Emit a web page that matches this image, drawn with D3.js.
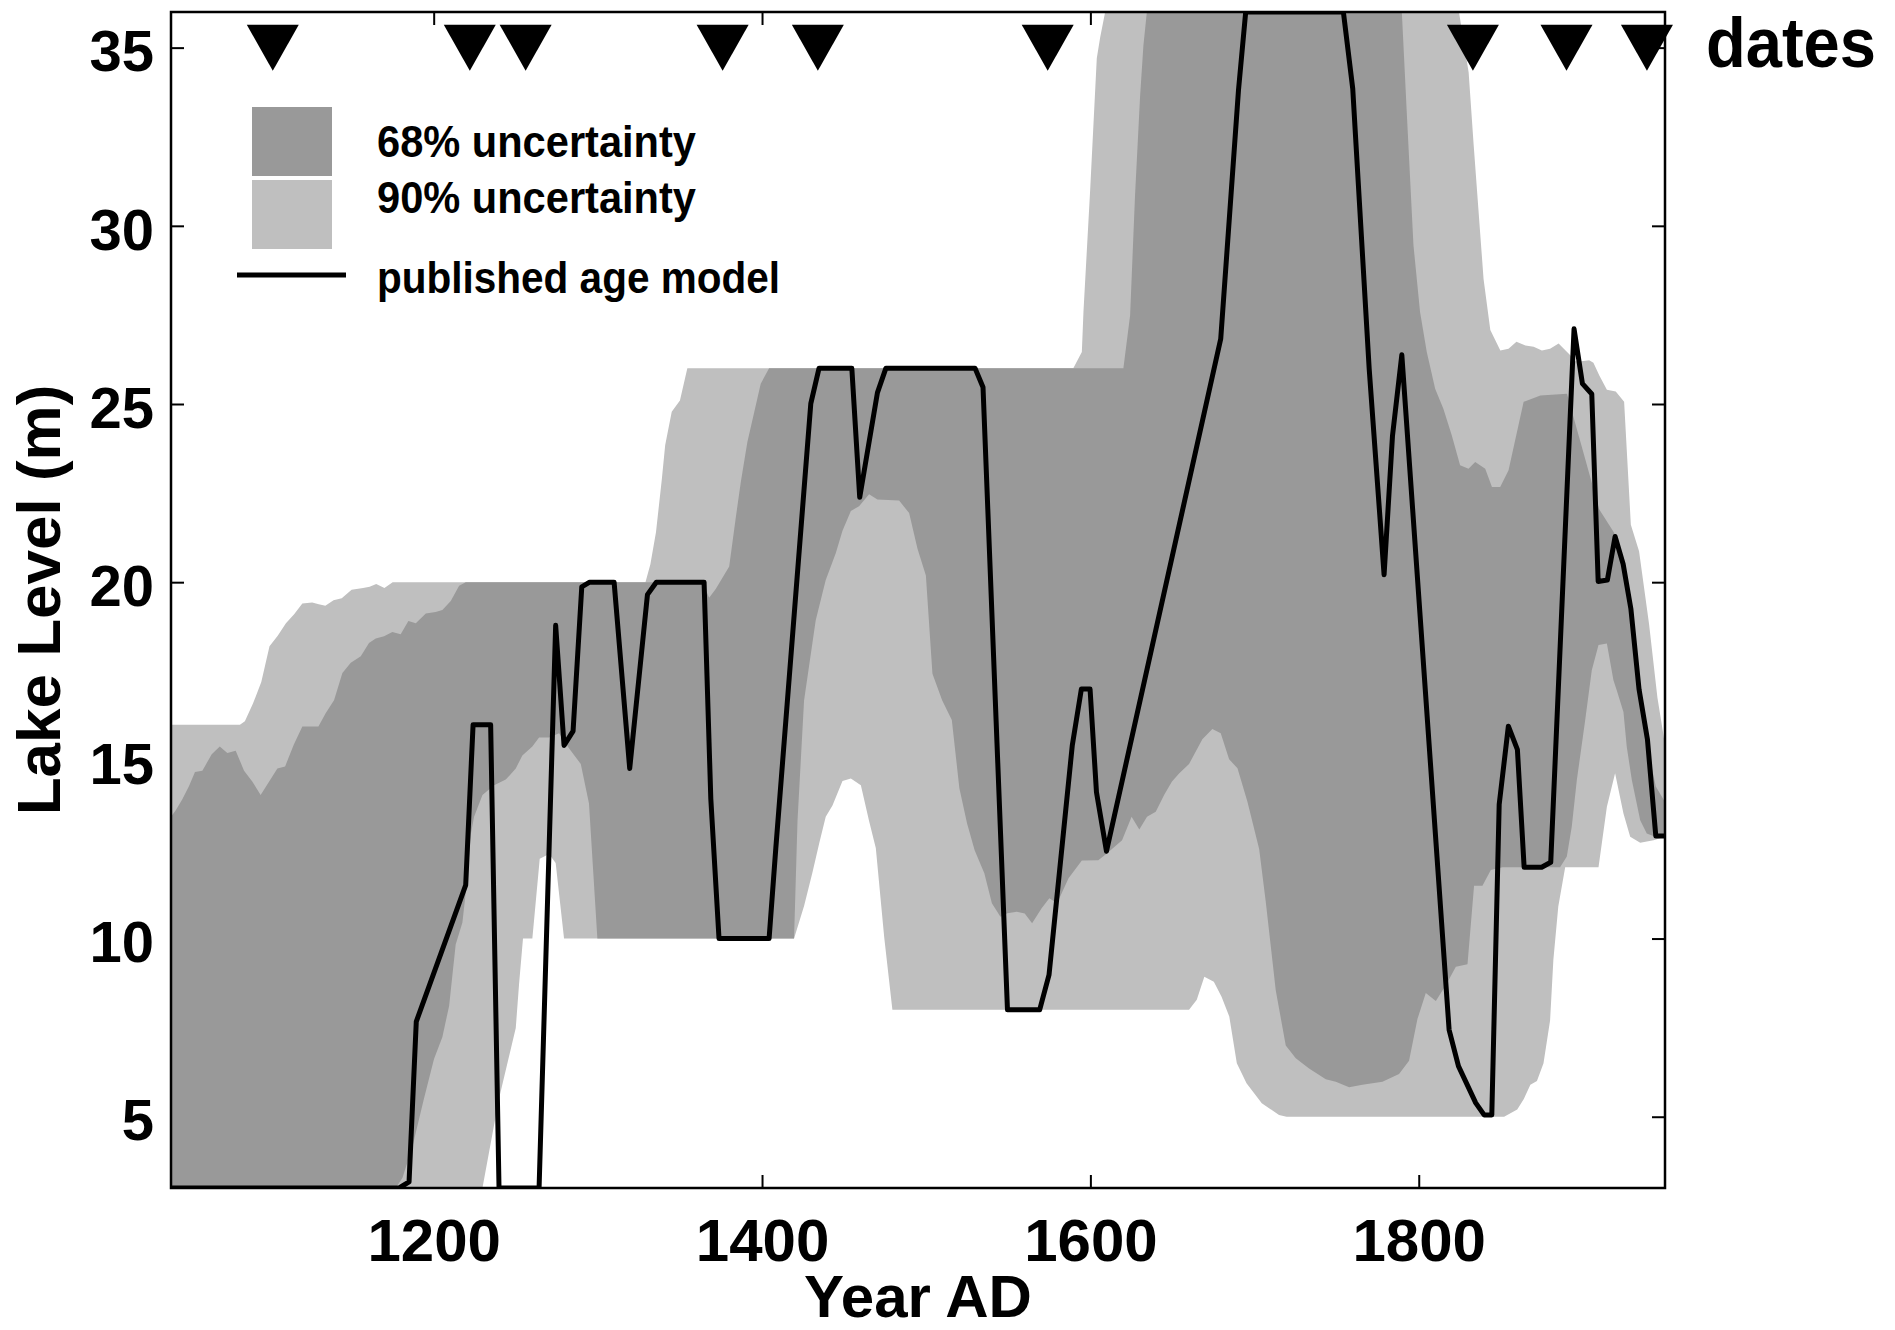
<!DOCTYPE html>
<html>
<head>
<meta charset="utf-8">
<script src="https://cdn.jsdelivr.net/npm/d3@7"></script>
<style>
  html, body { margin: 0; padding: 0; background: #ffffff; }
  svg { display: block; font-family: "Liberation Sans", Arial, Helvetica, sans-serif; font-weight: bold; }
</style>
</head>
<body>
<svg id="chart" width="1895" height="1330"></svg>
<script>
// ---- axes ----
const xDomain = [1040, 1950];
const yDomain = [3, 36];
const xTicks = [1200, 1400, 1600, 1800];
const yTicks = [5, 10, 15, 20, 25, 30, 35];

// ---- radiocarbon dates (year AD), plotted at lake level 35 ----
const dateYears = [1102, 1222, 1256, 1376, 1434, 1574, 1833, 1890, 1939];
const dateLevel = 35;

// ---- published age model: [year AD, lake level m] ----
const publishedModel = [
  [1040,3],[1179,3],[1185,3.17],[1189.4,7.67],[1219.5,11.5],[1224,16],[1234.7,16],[1239.8,3],
  [1264.2,3],[1274.3,18.79],[1279.4,15.42],[1284.9,15.82],[1290.2,19.87],[1295,20],[1309.9,20],
  [1319.4,14.77],[1330.2,19.65],[1335.6,20],[1364.7,20],[1368.8,13.92],[1373.8,10],[1404.3,10],
  [1408.4,12.54],[1429.7,25.01],[1434.7,26],[1454.7,26],[1459.5,22.38],[1470.3,25.32],[1475.4,26],
  [1529.8,26],[1534.6,25.47],[1549.5,8],[1569.1,8],[1574.8,8.98],[1589,15.43],[1594.5,17],
  [1599.8,17],[1603.7,14.11],[1609.8,12.45],[1679.4,26.83],[1690.2,33.8],[1694.6,36],[1754.1,36],
  [1759.8,33.85],[1769.8,26.0],[1778.9,20.21],[1784,24.1],[1789.7,26.38],[1818.5,7.44],
  [1824.2,6.42],[1834.7,5.39],[1839.8,5.05],[1844.5,5.05],[1849,13.76],[1854.6,15.96],
  [1860.1,15.3],[1864.2,12],[1874.9,12],[1880.4,12.14],[1894.6,27.11],[1899.7,25.57],
  [1905.4,25.28],[1909.3,20.02],[1914.9,20.06],[1919.6,21.28],[1924.5,20.51],[1929.2,19.26],
  [1934.2,16.99],[1939.3,15.59],[1944.4,12.88],[1950,12.88]
];

// ---- 90% uncertainty envelope ----
const upper90 = [
  [1040,16],[1082,16],[1085,16.1],[1090,16.6],[1095,17.2],[1100,18.2],[1105,18.5],[1110,18.85],
  [1115,19.1],[1120,19.4],[1126,19.43],[1130,19.38],[1134,19.34],[1139,19.49],[1144,19.55],
  [1150,19.79],[1157,19.84],[1161,19.87],[1165,19.95],[1170,19.84],[1175,20],[1329,20],
  [1332,20.5],[1335.4,21.4],[1339,22.9],[1341,23.84],[1345,24.78],[1350,25.1],[1354.5,26],
  [1589.6,26],[1594.8,26.46],[1595.8,27.6],[1599.8,30.95],[1603.9,34.7],[1606,35.3],[1609,36],
  [1824.5,36],[1830.4,34.3],[1833.4,32.3],[1839.5,28.5],[1843.6,27.08],[1849.7,26.5],
  [1854.7,26.55],[1859.5,26.75],[1865,26.64],[1870,26.61],[1875,26.5],[1880,26.55],
  [1885.2,26.7],[1892.3,26.37],[1894.5,26.2],[1899,26.2],[1903.8,26.23],[1906.4,26.16],
  [1910,25.8],[1914.6,25.4],[1920,25.35],[1925.1,25.06],[1929.2,21.61],[1934.2,20.87],
  [1940.3,18.82],[1945.4,16.76],[1950,15.44]
];
const lower90 = [
  [1040,3],[1229.7,3],[1235.8,4.52],[1239.8,5.51],[1244.9,6.5],[1250,7.49],[1252,8.72],
  [1254.4,10],[1260.1,10],[1264.6,12.24],[1270.3,12.37],[1274.3,12.12],[1279.4,10],[1419.5,10],
  [1425.6,10.91],[1430.7,11.85],[1434.8,12.67],[1438.8,13.42],[1442.9,13.73],[1449,14.42],
  [1454.1,14.49],[1460.2,14.3],[1465.2,13.3],[1469.3,12.54],[1474.4,10.04],[1479.4,8],
  [1660.1,8],[1664.8,8.28],[1669.4,8.93],[1675.2,8.79],[1679.9,8.37],[1684.6,7.81],
  [1689.2,6.5],[1695.1,5.94],[1704.4,5.38],[1714.9,5.05],[1719.5,5],[1852,5],[1860,5.2],
  [1864,5.5],[1868,5.9],[1872,6.0],[1876,6.5],[1880,7.7],[1882,9.4],[1885,10.9],[1889.2,12],
  [1909.5,12],[1914.6,13.7],[1919.6,14.64],[1924.7,13.51],[1928.8,12.86],[1934.9,12.69],
  [1943,12.76],[1950,12.86]
];

// ---- 68% uncertainty envelope ----
const upper68 = [
  [1040,13.42],[1042.9,13.6],[1046.9,13.91],[1051,14.28],[1054.6,14.67],[1059.1,14.71],
  [1064.8,15.17],[1069.7,15.39],[1074.3,15.21],[1079.4,15.27],[1084.5,14.71],[1089.6,14.4],
  [1094.6,14.03],[1099.7,14.4],[1104.8,14.77],[1109.5,14.83],[1114.9,15.45],[1120,15.95],
  [1129.8,15.95],[1134.2,16.32],[1139.3,16.69],[1144.4,17.45],[1149.5,17.74],[1155.6,17.92],
  [1160.6,18.29],[1164.7,18.42],[1169.8,18.48],[1174.8,18.6],[1179.9,18.54],[1184.6,18.91],
  [1189.1,18.85],[1195.2,19.12],[1201.2,19.16],[1205.3,19.22],[1210.4,19.47],[1215.5,19.9],
  [1219.5,20],[1363.7,20],[1367.8,19.56],[1371.8,19.81],[1380,20.44],[1384,21.81],
  [1387.1,22.82],[1391.1,23.94],[1395.2,24.76],[1399.2,25.57],[1404.3,26],[1620.1,26],
  [1624.2,27.49],[1627.2,30.86],[1630.3,33.66],[1632.3,35.06],[1634.4,36],[1789.7,36],
  [1792.7,33.19],[1796.8,29.45],[1800.8,27.58],[1804.9,26.46],[1810,25.43],[1815,24.87],
  [1820.1,24.12],[1825.2,23.28],[1830.3,23.18],[1834.4,23.37],[1840.5,23.18],[1844.6,22.67],
  [1849.6,22.67],[1854.7,23.14],[1859.8,24.21],[1863.9,25.06],[1874.1,25.24],[1890.3,25.29],
  [1899.7,23.74],[1909.9,22.05],[1919,21.39],[1925.1,20.43],[1929.2,19.41],[1933.2,17.65],
  [1938.3,15.59],[1944.4,14.27],[1950,13.83]
];
const lower68 = [
  [1040,3],[1176.9,3],[1181,3.29],[1187,4.15],[1194.1,5.51],[1200.2,6.62],[1205.3,7.24],
  [1209.4,8.11],[1213.4,9.83],[1217.5,10.45],[1220.5,11.69],[1222.6,12.92],[1224.6,13.42],
  [1229.7,14.03],[1236.8,14.3],[1243.9,14.46],[1250,14.77],[1254,15.14],[1260.1,15.39],
  [1264.2,15.64],[1270.3,15.64],[1276.4,15.76],[1282.5,15.33],[1289.6,14.9],[1294.6,13.79],
  [1299.7,10],[1419.5,10],[1421.6,13.3],[1425.6,16.68],[1432.7,18.93],[1438.8,20.06],
  [1444.9,20.81],[1449,21.44],[1454.1,22],[1459.1,22.13],[1465.2,22.47],[1470.3,22.32],
  [1483.5,22.29],[1489.6,21.94],[1494.7,20.94],[1499.8,20.19],[1503.8,17.43],[1509.7,16.69],
  [1515.6,16.13],[1520.2,14.22],[1524.9,13.23],[1529.5,12.48],[1535.4,11.83],[1540,10.99],
  [1545.2,10.61],[1549.4,10.71],[1555.2,10.75],[1560,10.7],[1564.5,10.43],[1570.3,10.85],
  [1575,11.13],[1579.7,10.99],[1586.7,11.69],[1594.8,12.19],[1604.8,12.2],[1610,12.39],
  [1619.3,12.76],[1625.1,13.42],[1629.8,13.06],[1634.5,13.42],[1639.8,13.56],[1644.9,14.03],
  [1649.6,14.4],[1654,14.63],[1660.1,14.9],[1668.2,15.59],[1674.3,15.88],[1679.4,15.76],
  [1684.5,15.03],[1689.6,14.78],[1695.7,13.83],[1702.8,12.51],[1706.8,11.04],[1712.9,8.55],
  [1719,7.0],[1725.1,6.64],[1733.2,6.35],[1743.4,6.05],[1749.5,5.98],[1757.6,5.83],
  [1765.7,5.9],[1777.9,5.98],[1788,6.2],[1794.1,6.57],[1799.2,7.74],[1804.3,8.47],
  [1810.4,8.25],[1816.5,8.69],[1822.6,9.21],[1829.7,9.28],[1833.7,11.48],[1838.8,11.48],
  [1843.9,11.92],[1851,12],[1886.1,12],[1890.2,12.3],[1893.2,13.14],[1896.3,14.45],
  [1901.4,16.13],[1905.4,17.53],[1909.5,18.24],[1914.6,18.28],[1918.6,17.25],[1920.6,16.97],
  [1924.7,16.36],[1926.7,15.38],[1929.8,14.45],[1934.9,13.32],[1938.9,12.95],[1944,12.86],
  [1950,12.86]
];

// ---- legend ----
const legendLabels = ["68% uncertainty", "90% uncertainty", "published age model"];

// ---- styling ----
const colorDark = "#999999";
const colorLight = "#bfbfbf";
const plot = { left: 171, right: 1665, top: 12, bottom: 1188 };

const svg = d3.select("#chart");

const x = d3.scaleLinear().domain(xDomain).range([plot.left, plot.right]);
const y = d3.scaleLinear().domain(yDomain).range([plot.bottom, plot.top]);

svg.append("defs").append("clipPath").attr("id", "plotClip")
  .append("rect")
  .attr("x", plot.left).attr("y", plot.top)
  .attr("width", plot.right - plot.left).attr("height", plot.bottom - plot.top);

// inward tick marks on all four sides (drawn beneath the bands)
const tickLen = 13;
function styleAxis(g) {
  g.select(".domain").remove();
  g.selectAll(".tick line").attr("stroke", "#000").attr("stroke-width", 2);
}

const gBottom = svg.append("g")
  .attr("transform", `translate(0,${plot.bottom})`)
  .call(d3.axisBottom(x).tickValues(xTicks).tickFormat(d3.format("d")).tickSize(-tickLen).tickPadding(30));
styleAxis(gBottom);
gBottom.selectAll(".tick text")
  .attr("font-size", 60).attr("font-family", "Liberation Sans, Arial, sans-serif")
  .attr("font-weight", "bold").attr("fill", "#000");

svg.append("g")
  .attr("transform", `translate(0,${plot.top})`)
  .call(d3.axisTop(x).tickValues(xTicks).tickFormat("").tickSize(-tickLen))
  .call(styleAxis);

const gLeft = svg.append("g")
  .attr("transform", `translate(${plot.left},0)`)
  .call(d3.axisLeft(y).tickValues(yTicks).tickFormat(d3.format("d")).tickSize(-tickLen).tickPadding(17));
styleAxis(gLeft);
gLeft.selectAll(".tick text")
  .attr("font-size", 58).attr("font-family", "Liberation Sans, Arial, sans-serif")
  .attr("font-weight", "bold").attr("fill", "#000").attr("dy", "0.4em");

svg.append("g")
  .attr("transform", `translate(${plot.right},0)`)
  .call(d3.axisRight(y).tickValues(yTicks).tickFormat("").tickSize(-tickLen))
  .call(styleAxis);

// uncertainty bands
const pathGen = d3.line().x(d => x(d[0])).y(d => y(d[1]));
function bandPath(upper, lower) {
  return pathGen(upper.concat(lower.slice().reverse())) + "Z";
}

const gData = svg.append("g").attr("clip-path", "url(#plotClip)");
gData.append("path").attr("d", bandPath(upper90, lower90)).attr("fill", colorLight);
gData.append("path").attr("d", bandPath(upper68, lower68)).attr("fill", colorDark);

// published age model
gData.append("path")
  .attr("d", pathGen(publishedModel))
  .attr("fill", "none").attr("stroke", "#000")
  .attr("stroke-width", 5).attr("stroke-linejoin", "round");

// axes box
svg.append("rect")
  .attr("x", plot.left).attr("y", plot.top)
  .attr("width", plot.right - plot.left).attr("height", plot.bottom - plot.top)
  .attr("fill", "none").attr("stroke", "#000").attr("stroke-width", 2.5);

// date markers (downward triangles)
const triHalfW = 26, triHalfH = 23;
svg.append("g").selectAll("path")
  .data(dateYears)
  .join("path")
  .attr("d", d => {
    const cx = x(d), cy = y(dateLevel);
    return `M${cx - triHalfW},${cy - triHalfH}L${cx + triHalfW},${cy - triHalfH}L${cx},${cy + triHalfH}Z`;
  })
  .attr("fill", "#000");

svg.append("text")
  .attr("x", 1706).attr("y", 67)
  .attr("font-size", 70).attr("textLength", 170).attr("lengthAdjust", "spacingAndGlyphs")
  .attr("fill", "#000")
  .text("dates");

// legend
svg.append("rect").attr("x", 252).attr("y", 107).attr("width", 80).attr("height", 69).attr("fill", colorDark);
svg.append("rect").attr("x", 252).attr("y", 180).attr("width", 80).attr("height", 69).attr("fill", colorLight);
svg.append("line").attr("x1", 237).attr("x2", 346).attr("y1", 275).attr("y2", 275)
  .attr("stroke", "#000").attr("stroke-width", 5);

const legendY = [157, 213, 293];
const legendW = [319, 319, 403];
svg.append("g").selectAll("text")
  .data(legendLabels)
  .join("text")
  .attr("x", 377)
  .attr("y", (d, i) => legendY[i])
  .attr("font-size", 44)
  .attr("textLength", (d, i) => legendW[i])
  .attr("lengthAdjust", "spacingAndGlyphs")
  .attr("fill", "#000")
  .text(d => d);

// axis titles
svg.append("text")
  .attr("x", (plot.left + plot.right) / 2).attr("y", 1317)
  .attr("text-anchor", "middle").attr("font-size", 60).attr("fill", "#000")
  .text("Year AD");

svg.append("text")
  .attr("transform", `translate(60,${(plot.top + plot.bottom) / 2}) rotate(-90)`)
  .attr("text-anchor", "middle").attr("font-size", 62).attr("fill", "#000")
  .text("Lake Level (m)");
</script>
</body>
</html>
